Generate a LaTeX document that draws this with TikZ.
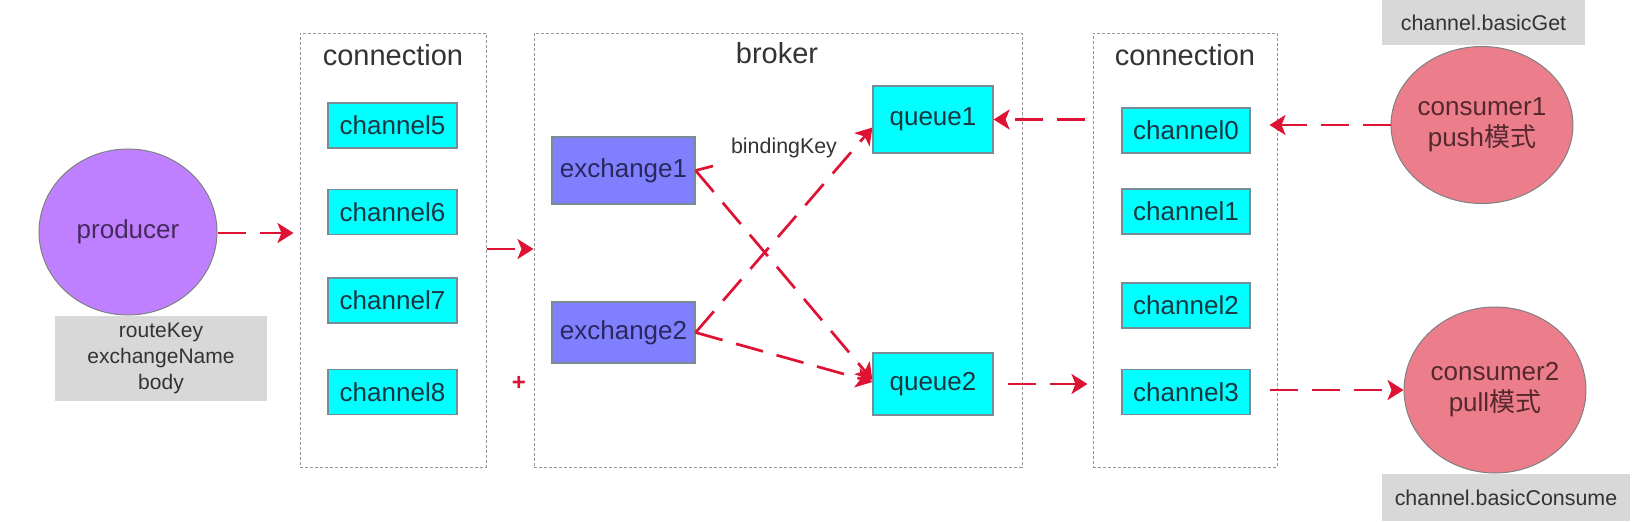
\documentclass[tikz,border=0pt]{standalone}
\usepackage{fontspec}
\setmainfont{Liberation Sans}
\newfontfamily\cjk{Noto Sans CJK SC}
\usetikzlibrary{arrows.meta,shapes.geometric}
\definecolor{arrred}{RGB}{222,18,50}
\definecolor{purp}{RGB}{191,128,255}
\definecolor{cyanf}{RGB}{0,255,255}
\definecolor{exf}{RGB}{128,128,255}
\definecolor{consf}{RGB}{236,126,140}
\definecolor{grayf}{RGB}{216,216,216}
\definecolor{txt}{RGB}{51,51,51}
\definecolor{boxline}{RGB}{150,150,150}
\definecolor{nodeline}{RGB}{120,140,150}
\definecolor{chtxt}{RGB}{25,55,65}
\definecolor{extxt}{RGB}{40,40,95}
\definecolor{prtxt}{RGB}{70,40,95}
\definecolor{cotxt}{RGB}{85,40,45}
\tikzset{
  container/.style={rectangle, draw=boxline, dash pattern=on 1.5pt off 1pt, line width=0.5pt, inner sep=0pt},
  titletext/.style={font=\fontsize{14.5}{17}\selectfont, text=txt, inner sep=0pt},
  chan/.style={rectangle, draw=nodeline, line width=0.6pt, fill=cyanf, minimum width=64.5pt, minimum height=22.5pt, inner sep=0pt, font=\fontsize{13}{15}\selectfont, text=chtxt},
  exch/.style={rectangle, draw=nodeline, line width=0.6pt, fill=exf, minimum width=71.5pt, inner sep=0pt, font=\fontsize{13}{15}\selectfont, text=extxt},
  grayinfo/.style={rectangle, fill=grayf, inner sep=0pt, text=txt, align=center},
  ball/.style={ellipse, draw=gray, line width=0.5pt, inner sep=0pt, align=center, font=\fontsize{13}{15.5}\selectfont},
  arr/.style={draw=arrred, line width=1.35pt, dash pattern=on 14pt off 7pt, -{Stealth[length=8pt,width=10pt,inset=2pt]}},
  smalltext/.style={font=\fontsize{10.7}{13}\selectfont, text=txt, inner sep=0pt}
}
\begin{document}
\begin{tikzpicture}[x=0.5pt,y=-0.5pt]
\useasboundingbox (0,0) rectangle (1640,521);
% containers
\node[container, minimum width=93pt, minimum height=217pt] (connL) at (393,250) {};
\node[titletext] (connLt) at (393,55) {connection};
\node[container, minimum width=244pt, minimum height=217pt] (broker) at (778,250) {};
\node[titletext] (brokert) at (777,53) {broker};
\node[container, minimum width=92pt, minimum height=217pt] (connR) at (1185,250) {};
\node[titletext] (connRt) at (1185,55) {connection};
% producer
\node[ball, fill=purp, text=prtxt, minimum width=89pt, minimum height=83pt] (producer) at (128,232) {producer};
\node[grayinfo, minimum width=106pt, minimum height=42.5pt, font=\fontsize{10.5}{13}\selectfont] (prodinfo) at (161,358.5) {routeKey\\exchangeName\\body};
% left channels
\node[chan] (ch5) at (392.5,125.5) {channel5};
\node[chan] (ch6) at (392.5,212) {channel6};
\node[chan] (ch7) at (392.5,300.5) {channel7};
\node[chan] (ch8) at (392.5,392) {channel8};
% broker contents
\node[exch, minimum height=33.5pt] (ex1) at (623.5,170.5) {exchange1};
\node[exch, minimum height=30.5pt] (ex2) at (623.5,332.5) {exchange2};
\node[chan, minimum width=60pt, minimum height=33.5pt] (q1) at (933,119.5) {queue1};
\node[chan, minimum width=60pt, minimum height=31pt] (q2) at (933,384) {queue2};
\node[smalltext] (bkey) at (784,148) {bindingKey};
% right channels
\node[chan, minimum width=64pt] (ch0) at (1186,130.5) {channel0};
\node[chan, minimum width=64pt] (ch1) at (1186,211.5) {channel1};
\node[chan, minimum width=64pt] (ch2) at (1186,305.5) {channel2};
\node[chan, minimum width=64pt] (ch3) at (1186,392) {channel3};
% consumers
\node[ball, fill=consf, text=cotxt, minimum width=80.5pt, minimum height=78.5pt] (cons1) at (1482,125) {consumer1\\push{\cjk 模式}};
\node[ball, fill=consf, text=cotxt, minimum width=88.5pt, minimum height=83pt] (cons2) at (1495,390) {consumer2\\pull{\cjk 模式}};
\node[grayinfo, minimum width=101.5pt, minimum height=22.5pt, font=\fontsize{10.7}{13}\selectfont] (getinfo) at (1483.5,22.5) {channel.basicGet};
\node[grayinfo, minimum width=124pt, minimum height=23.5pt, font=\fontsize{10.7}{13}\selectfont] (consinfo) at (1506,497.5) {channel.basicConsume};
% stray plus mark
\node[text=arrred, font=\fontsize{12}{14}\selectfont\bfseries, inner sep=0pt] (plus) at (519,383) {+};
% connectors
\draw[arr, shorten >=3pt] (producer.east |- 0,233) -- (connL.west |- 0,233);
\draw[arr] (connL.east |- 0,249) -- (broker.west |- 0,249);
\draw[arr, shorten <=4pt] (connR.west |- q1.east) -- (q1.east);
\draw[arr, shorten <=7pt, shorten >=2.5pt] (q2.east) -- (connR.west |- q2.east);
\draw[arr, shorten >=-4pt] (cons1.west) -- (connR.east |- cons1.west);
\draw[arr, shorten <=-4pt] (connR.east |- cons2.west) -- (cons2.west);
\draw[arr] (ex1.east) -- ([yshift=2pt]q2.west);
\draw[arr] (ex2.east) -- ([yshift=-4pt]q1.west);
\draw[arr] (ex2.east) -- ([yshift=1pt]q2.west);
\coordinate (ex1tick) at (713,166);
\draw[draw=arrred, line width=1.35pt] (ex1.east) -- (ex1tick);
\end{tikzpicture}
\end{document}
